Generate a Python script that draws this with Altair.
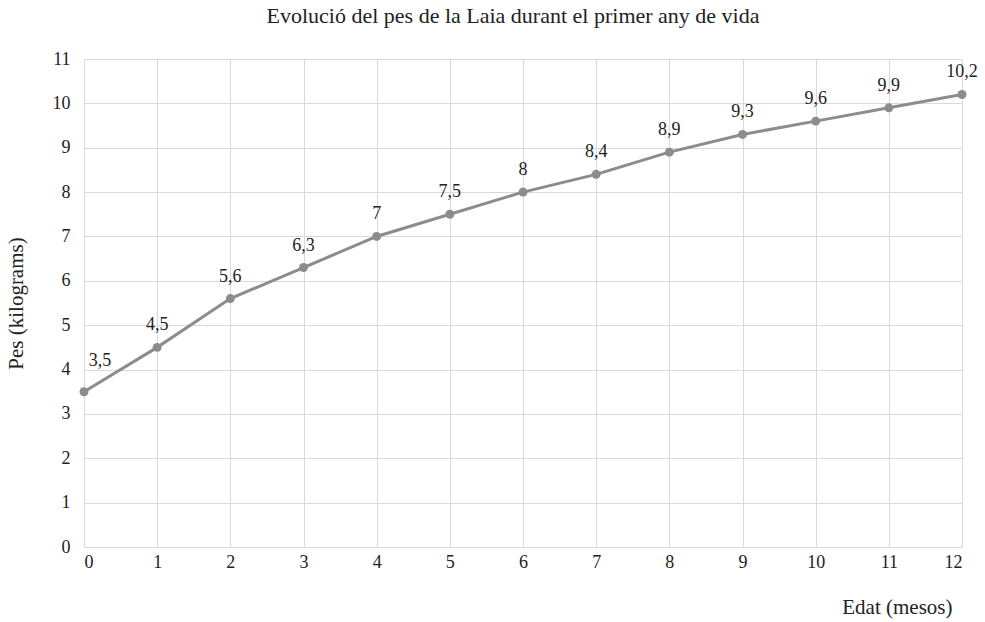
import altair as alt
import pandas as pd

months = list(range(13))
weights = [3.5, 4.5, 5.6, 6.3, 7.0, 7.5, 8.0, 8.4, 8.9, 9.3, 9.6, 9.9, 10.2]
labels = ["3,5", "4,5", "5,6", "6,3", "7", "7,5", "8", "8,4", "8,9", "9,3", "9,6", "9,9", "10,2"]

df = pd.DataFrame({"mes": months, "pes": weights, "etiqueta": labels})

SERIF = "Liberation Serif"
GRAY = "#8c8c8c"

base = alt.Chart(df)

x = alt.X("mes:Q", scale=alt.Scale(domain=[0, 12], nice=False),
          axis=alt.Axis(values=months, title="Edat (mesos)", titleX=868, titleY=70,
                        titleAlign="right", titleBaseline="bottom"))
y = alt.Y("pes:Q", scale=alt.Scale(domain=[0, 11], nice=False),
          axis=alt.Axis(values=list(range(12)), title="Pes (kilograms)", titleX=-58))

line = base.mark_line(color=GRAY, strokeWidth=3).encode(x=x, y=y)
pts = base.mark_point(color=GRAY, filled=True, opacity=1, size=80).encode(x=x, y=y)
txt = base.transform_filter(alt.datum.mes > 0).mark_text(
    font=SERIF, fontSize=18, color="#222", baseline="bottom", dy=-13).encode(
    x=x, y=y, text="etiqueta:N")
txt0 = base.transform_filter(alt.datum.mes == 0).mark_text(
    font=SERIF, fontSize=18, color="#222", baseline="bottom", dy=-22, dx=16).encode(
    x=x, y=y, text="etiqueta:N")

chart = (line + pts + txt + txt0).properties(
    width=878, height=488,
    autosize=alt.AutoSizeParams(type="none"),
    padding={"left": 84, "top": 59, "right": 23, "bottom": 75},
    title=alt.TitleParams("Evolució del pes de la Laia durant el primer any de vida",
                          font=SERIF, fontSize=22, fontWeight="normal",
                          color="#222", anchor="middle", offset=22, dx=-10),
).configure_view(stroke=None).configure_axis(
    grid=True, gridColor="#d9d9d9", gridWidth=1, domain=False, ticks=False,
    labelFont=SERIF, labelFontSize=18, labelColor="#222",
    titleFont=SERIF, titleFontSize=21, titleFontWeight="normal", titleColor="#222",
).configure_axisX(labelPadding=6).configure_axisY(labelPadding=14)

chart.save("out.html", embed_options={"renderer": "svg", "actions": False})
